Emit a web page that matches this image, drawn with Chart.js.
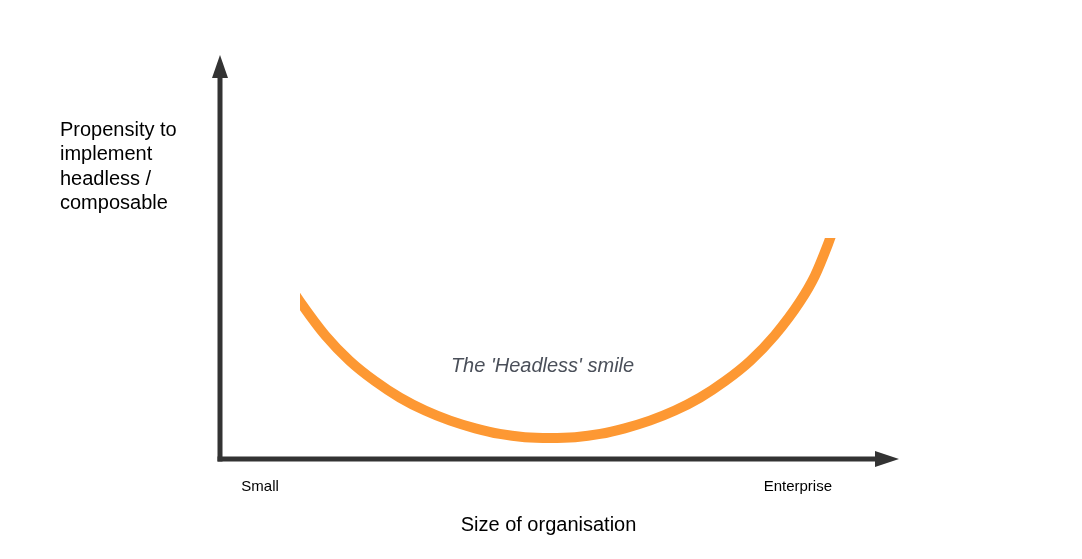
<!DOCTYPE html>
<html>
<head>
<meta charset="utf-8">
<script src="https://cdn.jsdelivr.net/npm/chart.js@4"></script>
<style>
  html, body { margin: 0; padding: 0; background: #fff; }
  #wrap { width: 1082px; height: 559px; }
</style>
</head>
<body>
<div id="wrap"><canvas id="myChart"></canvas></div>
<script>
// points (x: size 0-100, y: propensity 0-100)
// first and last points run just past the cut ends, the clip hides them
const sizeX = [10.3, 11.8, 15.5, 19.1, 22.8, 26.5, 30.2, 33.9, 37.6, 41.2, 44.9, 48.6, 52.3, 56.0, 59.6, 63.3, 67.0, 70.7, 74.4, 78.1, 81.7, 85.4, 87.6, 89.5, 90.4]
const propensity = [42.7, 38.9, 30.6, 24.3, 19.3, 15.2, 12.0, 9.5, 7.6, 6.2, 5.4, 5.2, 5.4, 6.2, 7.6, 9.5, 12.0, 15.2, 19.3, 24.3, 30.6, 38.9, 45.3, 53.0, 57.2]
// x axis end labels and where they sit
const endLabels = ['Small', 'Enterprise']
const endLabelAt = [5.9, 85.1]
const yTitleLines = ['Propensity to', 'implement', 'headless /', 'composable']
const xTitle = 'Size of organisation'
const curveLabel = "The 'Headless' smile"
const curveLabelAt = [47.5, 23.0]

const FONT = "'Liberation Sans', Arial, sans-serif"

const smile = sizeX.map((x, i) => ({ x: x, y: propensity[i] }))

// draws the two arrow axes and the free text
const axesPlugin = {
  id: 'axesPlugin',
  beforeDatasetsDraw(chart) {
    const ctx = chart.ctx
    const a = chart.chartArea
    const w = 5
    ctx.save()
    ctx.fillStyle = '#333333'
    // y axis shaft + head
    ctx.fillRect(a.left - w / 2, a.top + 23, w, a.bottom - a.top - 23 + w / 2)
    ctx.beginPath()
    ctx.moveTo(a.left - 8, a.top + 23)
    ctx.lineTo(a.left + 8, a.top + 23)
    ctx.lineTo(a.left, a.top)
    ctx.closePath()
    ctx.fill()
    // x axis shaft + head
    ctx.fillRect(a.left - w / 2, a.bottom - w / 2, a.right - 24 - a.left + w / 2, w)
    ctx.beginPath()
    ctx.moveTo(a.right - 24, a.bottom - 8)
    ctx.lineTo(a.right - 24, a.bottom + 8)
    ctx.lineTo(a.right, a.bottom)
    ctx.closePath()
    ctx.fill()
    ctx.restore()
  },
  afterDraw(chart) {
    const ctx = chart.ctx
    const xs = chart.scales.x
    const ys = chart.scales.y
    ctx.save()
    ctx.fillStyle = '#000'
    ctx.font = '20px ' + FONT
    ctx.textAlign = 'left'
    ctx.textBaseline = 'alphabetic'
    yTitleLines.forEach((t, i) => ctx.fillText(t, 60, 136 + i * 24.3))
    ctx.textAlign = 'center'
    ctx.textBaseline = 'middle'
    ctx.fillText(xTitle, 548.5, 525)
    ctx.fillStyle = '#4a4f59'
    ctx.font = 'italic 20px ' + FONT
    ctx.fillText(curveLabel, xs.getPixelForValue(curveLabelAt[0]), ys.getPixelForValue(curveLabelAt[1]))
    ctx.restore()
  }
}

var ctx = document.getElementById('myChart').getContext('2d')
var myChart = new Chart(ctx, {
  type: 'line',
  data: {
    datasets: [{
      data: smile,
      borderColor: '#fd9833',
      borderWidth: 10,
      borderCapStyle: 'butt',
      borderJoinStyle: 'round',
      pointRadius: 0,
      cubicInterpolationMode: 'monotone',
      fill: false,
      // the curve is cut square at its two ends
      clip: { left: -80, top: -183, right: 0, bottom: 0 }
    }]
  },
  options: {
    responsive: true,
    maintainAspectRatio: false,
    animation: false,
    layout: { padding: { left: 220, right: 183, top: 55, bottom: 0 } },
    plugins: { legend: { display: false }, tooltip: { enabled: false } },
    scales: {
      x: {
        type: 'linear',
        min: 0,
        max: 100,
        grid: { display: false, drawTicks: false },
        border: { display: false },
        afterFit: s => { s.height = 100 },
        afterBuildTicks: s => { s.ticks = endLabelAt.map(v => ({ value: v })) },
        ticks: {
          autoSkip: false,
          maxRotation: 0,
          padding: 19,
          color: '#000',
          font: { family: FONT, size: 15 },
          callback: (v, i) => endLabels[i]
        }
      },
      y: {
        display: false,
        min: 0,
        max: 100
      }
    }
  },
  plugins: [axesPlugin]
})
</script>
</body>
</html>
